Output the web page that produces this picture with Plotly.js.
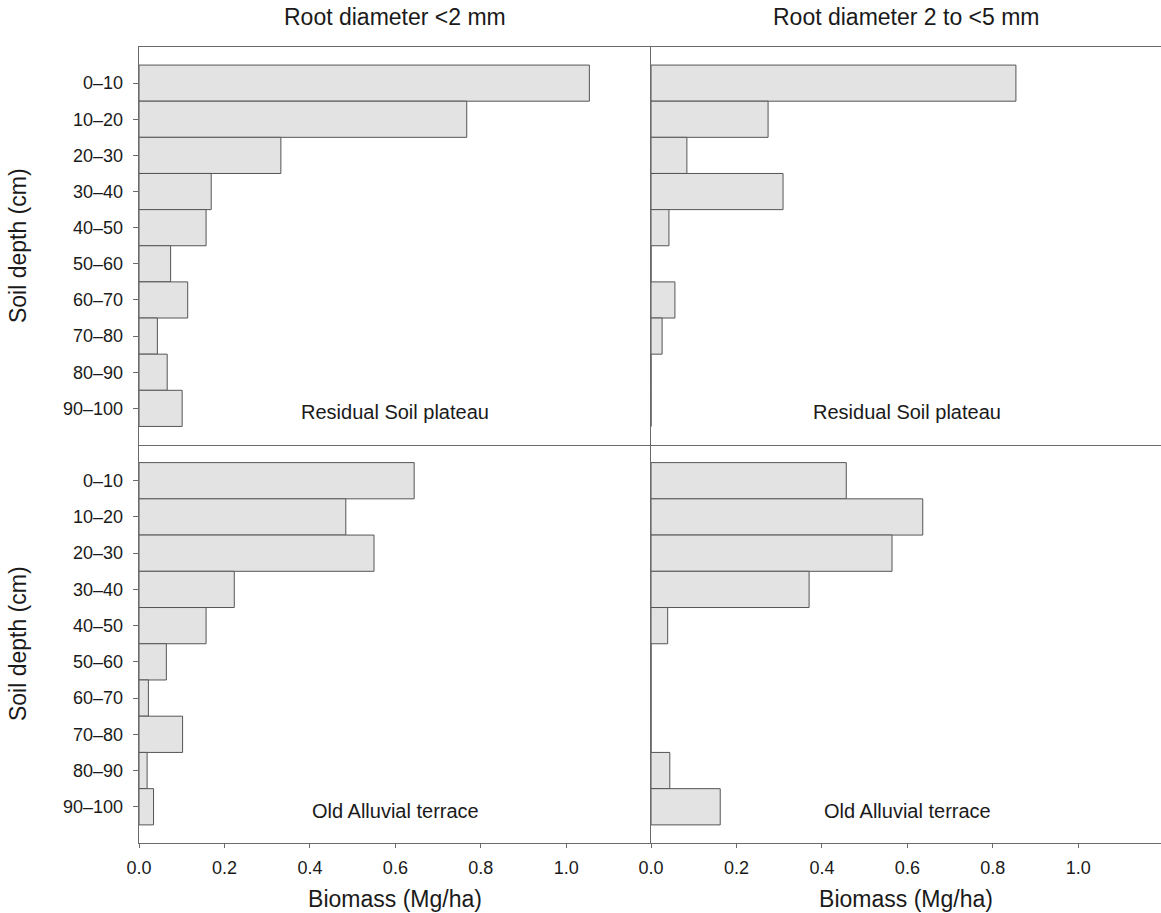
<!DOCTYPE html>
<html>
<head>
<meta charset="utf-8">
<script src="https://cdn.plot.ly/plotly-3.0.1.min.js"></script>
<style>html,body{margin:0;padding:0;background:#fff;}#chart{width:1161px;height:913px;}</style>
</head>
<body>
<div id="chart"></div>
<script>
const depths = ["0–10","10–20","20–30","30–40","40–50","50–60","60–70","70–80","80–90","90–100"];
const fineResidual   = [1.054, 0.767, 0.332, 0.169, 0.157, 0.074, 0.114, 0.043, 0.066, 0.101];
const coarseResidual = [0.854, 0.274, 0.084, 0.309, 0.042, 0, 0.056, 0.026, 0, 0];
const fineAlluvial   = [0.644, 0.484, 0.550, 0.223, 0.157, 0.064, 0.022, 0.102, 0.019, 0.034];
const coarseAlluvial = [0.457, 0.636, 0.564, 0.370, 0.039, 0, 0, 0, 0.044, 0.162];
const columnTitles = ["Root diameter <2 mm", "Root diameter 2 to <5 mm"];
const siteLabels = ["Residual Soil plateau", "Old Alluvial terrace"];
const xTickVals = [0, 0.2, 0.4, 0.6, 0.8, 1.0];
const xTickText = ["0.0", "0.2", "0.4", "0.6", "0.8", "1.0"];

const FONT = "Liberation Sans, Arial, Helvetica, sans-serif";
const TXT = "#1a1a1a";
const LINE = "#6a6a6a";

function barTrace(vals, xa, ya) {
  return {
    type: "bar", orientation: "h", x: vals, y: depths,
    xaxis: xa, yaxis: ya, width: 1,
    marker: {color: "#e3e3e3", line: {color: "#555555", width: 1}},
    hoverinfo: "x+y", showlegend: false
  };
}

const data = [
  barTrace(fineResidual, "x3", "y3"),
  barTrace(coarseResidual, "x4", "y4"),
  barTrace(fineAlluvial, "x", "y"),
  barTrace(coarseAlluvial, "x2", "y2")
];

const W = 1161, H = 913;
const mL = 139, mR = 0, mT = 47, mB = 70;
const plotW = W - mL - mR, plotH = H - mT - mB;
const xSplit = (651 - mL) / plotW;
const ySplit = (843 - 444.5) / plotH;
const pxPerUnit = 427.3;
const rangeLeft = [0, (651 - mL) / pxPerUnit];
const rangeRight = [0, (W - 651) / pxPerUnit];

function xAxisBottom(domain, range, anchor) {
  return {
    domain: domain, range: range, anchor: anchor,
    tickvals: xTickVals, ticktext: xTickText,
    ticks: "outside", ticklen: 4, tickwidth: 1, tickcolor: LINE,
    ticklabelstandoff: 4,
    showline: true, linecolor: LINE, linewidth: 1.3, mirror: false,
    showgrid: false, zeroline: false,
    tickfont: {family: FONT, size: 18, color: TXT},
    title: {text: "Biomass (Mg/ha)", font: {family: FONT, size: 23, color: TXT}, standoff: 14}
  };
}
function xAxisTop(domain, range, anchor) {
  return {
    domain: domain, range: range, anchor: anchor,
    showticklabels: false, ticks: "",
    showline: true, linecolor: LINE, linewidth: 1.3, mirror: true,
    showgrid: false, zeroline: false
  };
}
function yAxisLeft(domain, anchor) {
  return {
    domain: domain, anchor: anchor, type: "category",
    categoryorder: "array", categoryarray: depths,
    range: [10, -1],
    ticks: "outside", ticklen: 5, tickwidth: 1, tickcolor: LINE,
    ticklabelstandoff: 6,
    showline: true, linecolor: LINE, linewidth: 1.3,
    showgrid: false, zeroline: false,
    tickfont: {family: FONT, size: 18, color: TXT},
    title: {text: "Soil depth (cm)", font: {family: FONT, size: 23, color: TXT}, standoff: 30}
  };
}
function yAxisRight(domain, anchor) {
  return {
    domain: domain, anchor: anchor, type: "category",
    categoryorder: "array", categoryarray: depths,
    range: [10, -1],
    ticks: "", showticklabels: false,
    showline: true, linecolor: LINE, linewidth: 1.3,
    showgrid: false, zeroline: false
  };
}

const annotations = [];
columnTitles.forEach((t, i) => {
  annotations.push({
    text: t, xref: "paper", yref: "paper",
    x: i === 0 ? xSplit / 2 : (xSplit + 1) / 2,
    y: (H - mB - 17) / plotH, xanchor: "center", yanchor: "middle",
    showarrow: false, font: {family: FONT, size: 23, color: TXT}
  });
});
[["x3","y3",0],["x4","y4",0],["x","y",1],["x2","y2",1]].forEach(([xa, ya, s]) => {
  annotations.push({
    text: siteLabels[s], xref: xa, yref: ya, x: 0.6, y: 9,
    yshift: -4, xanchor: "center", yanchor: "middle",
    showarrow: false, font: {family: FONT, size: 20, color: TXT}
  });
});

const layout = {
  width: W, height: H,
  margin: {l: mL, r: mR, t: mT, b: mB, pad: 0},
  paper_bgcolor: "#ffffff", plot_bgcolor: "#ffffff",
  bargap: 0, showlegend: false,
  font: {family: FONT, color: TXT},
  xaxis: xAxisBottom([0, xSplit], rangeLeft, "y"),
  yaxis: yAxisLeft([0, ySplit], "x"),
  xaxis2: xAxisBottom([xSplit, 1], rangeRight, "y2"),
  yaxis2: yAxisRight([0, ySplit], "x2"),
  xaxis3: xAxisTop([0, xSplit], rangeLeft, "y3"),
  yaxis3: yAxisLeft([ySplit, 1], "x3"),
  xaxis4: xAxisTop([xSplit, 1], rangeRight, "y4"),
  yaxis4: yAxisRight([ySplit, 1], "x4"),
  annotations: annotations
};

Plotly.newPlot("chart", data, layout, {displayModeBar: false, staticPlot: true});
</script>
</body>
</html>
